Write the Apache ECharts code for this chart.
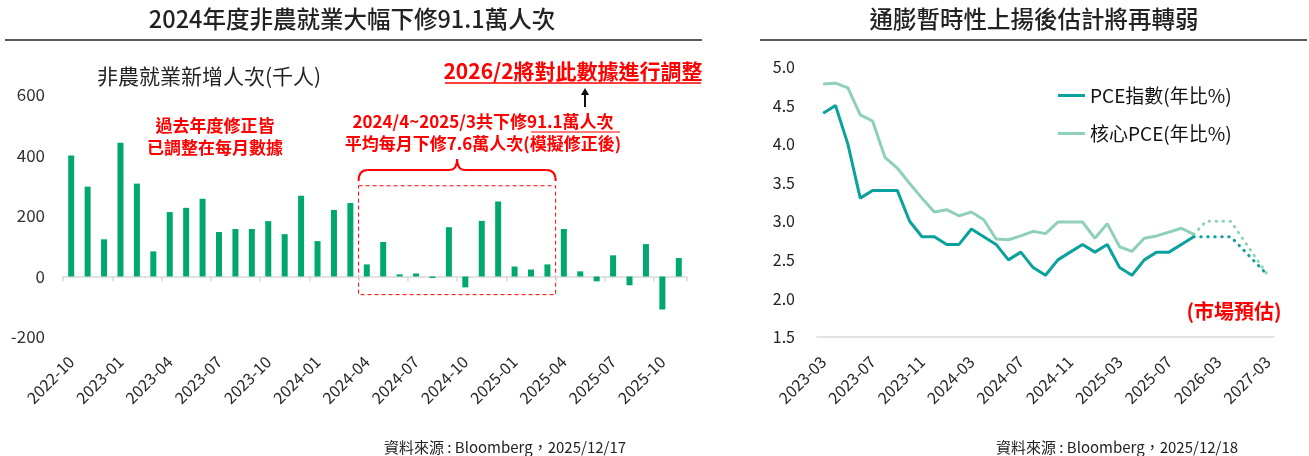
<!doctype html>
<html>
<head>
    <meta charset="UTF-8">
    <title>非農就業與PCE</title>
    <script src="https://cdn.jsdelivr.net/npm/echarts@6/dist/echarts.min.js"></script>
    <style>
        html, body { margin: 0; padding: 0; background: #fff; }
        #main { width: 1309px; height: 456px; }
    </style>
</head>
<body>
<div id="main"></div>
<script type="text/javascript">
    // 非農就業新增人次(千人)
    var nfpMonths = ['2022-10', '2022-11', '2022-12', '2023-01', '2023-02', '2023-03', '2023-04', '2023-05',
        '2023-06', '2023-07', '2023-08', '2023-09', '2023-10', '2023-11', '2023-12', '2024-01', '2024-02',
        '2024-03', '2024-04', '2024-05', '2024-06', '2024-07', '2024-08', '2024-09', '2024-10', '2024-11',
        '2024-12', '2025-01', '2025-02', '2025-03', '2025-04', '2025-05', '2025-06', '2025-07', '2025-08',
        '2025-09', '2025-10', '2025-11'];
    var nfpValues = [400, 297, 123, 442, 307, 83, 213, 227, 257, 147, 157, 157, 183, 140, 267, 117, 220,
        243, 40, 114, 7, 10, -5, 163, -36, 184, 248, 33, 23, 40, 157, 17, -16, 70, -29, 107, -109, 61];
    var nfpTicks = [-200, 0, 200, 400, 600];

    // PCE (年比%)
    var pceMonths = ['2023-03', '2023-04', '2023-05', '2023-06', '2023-07', '2023-08', '2023-09', '2023-10',
        '2023-11', '2023-12', '2024-01', '2024-02', '2024-03', '2024-04', '2024-05', '2024-06', '2024-07',
        '2024-08', '2024-09', '2024-10', '2024-11', '2024-12', '2025-01', '2025-02', '2025-03', '2025-04',
        '2025-05', '2025-06', '2025-07', '2025-08', '2025-09',
        '2025-12', '2026-03', '2026-06', '2026-09', '2026-12', '2027-03'];
    var pceActual = [4.4, 4.5, 4.0, 3.3, 3.4, 3.4, 3.4, 3.0, 2.8, 2.8, 2.7, 2.7, 2.9, 2.8, 2.7, 2.5, 2.6,
        2.4, 2.3, 2.5, 2.6, 2.7, 2.6, 2.7, 2.4, 2.3, 2.5, 2.6, 2.6, 2.7, 2.8];
    var coreActual = [4.78, 4.79, 4.73, 4.38, 4.30, 3.83, 3.69, 3.49, 3.30, 3.12, 3.15, 3.07, 3.12, 3.02,
        2.77, 2.76, 2.81, 2.87, 2.84, 2.99, 2.99, 2.99, 2.78, 2.97, 2.67, 2.61, 2.78, 2.81, 2.86, 2.91, 2.83];
    // 市場預估 2025-12 ~ 2027-03
    var pceForecast = [2.8, 2.8, 2.8, null, null, 2.3];
    var coreForecast = [3.0, 3.0, 3.0, null, null, 2.3];

    var pceColor = '#0ba19c';
    var coreColor = '#8fd0bb';
    var red = '#ff0000';
    var font = '"Noto Sans CJK TC", "Noto Sans", sans-serif';

    function padActual(actual, fc) {
        return actual.concat(fc.map(function () { return null; }));
    }
    function padForecast(actual, fc) {
        var arr = actual.map(function () { return null; });
        arr[arr.length - 1] = actual[actual.length - 1];
        return arr.concat(fc);
    }

    var myChart = echarts.init(document.getElementById('main'));

    var option = {
        animation: false,
        textStyle: { fontFamily: font },
        grid: [
            { left: 63, right: 622, top: 95, bottom: 119 },
            { left: 817, right: 35, top: 67, bottom: 119 }
        ],
        legend: {
            data: ['PCE指數(年比%)', '核心PCE(年比%)'],
            orient: 'vertical',
            left: 1058,
            top: 86,
            icon: 'rect',
            itemWidth: 27,
            itemHeight: 3,
            itemGap: 19,
            padding: 0,
            selectedMode: false,
            textStyle: { fontSize: 19, color: '#111', fontFamily: font }
        },
        xAxis: [
            {
                // 零軸(線與刻度)
                type: 'category', gridIndex: 0, position: 'bottom', data: nfpMonths,
                axisLine: { onZero: true, lineStyle: { color: '#d9d9d9', width: 1.5 } },
                axisTick: { show: true, interval: 2, length: 5, lineStyle: { color: '#d9d9d9', width: 1.5 } },
                axisLabel: { show: false }
            },
            {
                // 底部標籤
                type: 'category', gridIndex: 0, position: 'bottom', data: nfpMonths,
                axisLine: { show: false, onZero: false },
                axisTick: { show: false },
                axisLabel: { interval: 2, rotate: 45, margin: 22, fontSize: 16, color: '#262626' }
            },
            {
                type: 'category', gridIndex: 1, position: 'bottom', data: pceMonths,
                axisLine: { onZero: false, lineStyle: { color: '#d9d9d9', width: 1.5 } },
                axisTick: { show: false },
                axisLabel: { interval: 3, rotate: 45, margin: 22, fontSize: 16, color: '#262626' }
            }
        ],
        yAxis: [
            {
                type: 'value', gridIndex: 0,
                min: nfpTicks[0], max: nfpTicks[nfpTicks.length - 1], interval: 200,
                axisLine: { show: false }, axisTick: { show: false }, splitLine: { show: false },
                axisLabel: { fontSize: 17, color: '#333', margin: 18 }
            },
            {
                type: 'value', gridIndex: 1, min: 1.5, max: 5, interval: 0.5,
                axisLine: { show: false }, axisTick: { show: false }, splitLine: { show: false },
                axisLabel: {
                    fontSize: 16, color: '#222', margin: 22,
                    formatter: function (v) { return v.toFixed(1); }
                }
            }
        ],
        series: [
            {
                name: '非農就業新增人次',
                type: 'bar',
                xAxisIndex: 0, yAxisIndex: 0,
                barWidth: 6,
                itemStyle: { color: '#00a76e' },
                data: nfpValues
            },
            {
                name: '核心PCE(年比%)',
                type: 'line', xAxisIndex: 2, yAxisIndex: 1,
                symbol: 'none', color: coreColor,
                lineStyle: { width: 3, color: coreColor },
                data: padActual(coreActual, coreForecast)
            },
            {
                name: 'PCE指數(年比%)',
                type: 'line', xAxisIndex: 2, yAxisIndex: 1,
                symbol: 'none', color: pceColor,
                lineStyle: { width: 3, color: pceColor },
                data: padActual(pceActual, pceForecast)
            },
            {
                name: '核心PCE預估',
                type: 'line', xAxisIndex: 2, yAxisIndex: 1,
                symbol: 'none', connectNulls: true,
                lineStyle: { width: 3, color: coreColor, type: [0.5, 6.5], cap: 'round' },
                data: padForecast(coreActual, coreForecast)
            },
            {
                name: 'PCE指數預估',
                type: 'line', xAxisIndex: 2, yAxisIndex: 1,
                symbol: 'none', connectNulls: true,
                lineStyle: { width: 3, color: pceColor, type: [0.5, 6.5], cap: 'round' },
                data: padForecast(pceActual, pceForecast)
            }
        ]
    };
    myChart.setOption(option);

    // 註解位置由座標軸換算
    var finder = { xAxisIndex: 0, yAxisIndex: 0 };
    var pA = myChart.convertToPixel(finder, ['2024-04', 300]);
    var pB = myChart.convertToPixel(finder, ['2025-03', -60]);
    var band = myChart.convertToPixel(finder, ['2024-05', 0])[0] - pA[0];
    var bx0 = pA[0] - band / 2, bx1 = pB[0] + band / 2;
    var bxm = (bx0 + bx1) / 2;

    function txt(x, y, s, size, color, weight, align) {
        return {
            type: 'text', x: x, y: y, silent: true,
            style: {
                text: s, fill: color, fontSize: size, fontFamily: font,
                fontWeight: weight || 'normal',
                align: align || 'center', verticalAlign: 'middle'
            }
        };
    }
    function seg(x1, y1, x2, y2, color, w) {
        return { type: 'line', silent: true, shape: { x1: x1, y1: y1, x2: x2, y2: y2 },
            style: { stroke: color, lineWidth: w } };
    }
    function curve(x1, y1, cx, cy, x2, y2) {
        return { type: 'bezierCurve', silent: true,
            shape: { x1: x1, y1: y1, cpx1: cx, cpy1: cy, x2: x2, y2: y2 },
            style: { stroke: red, lineWidth: 2, fill: null } };
    }

    myChart.setOption({
        graphic: [
            txt(352, 19, '2024年度非農就業大幅下修91.1萬人次', 23.5, '#222', 500),
            seg(5, 40, 702, 40, '#222', 1.5),
            txt(1034, 19, '通膨暫時性上揚後估計將再轉弱', 23.5, '#222', 500),
            seg(760, 40, 1307, 40, '#222', 1.5),

            txt(97, 76, '非農就業新增人次(千人)', 21, '#222', 'normal', 'left'),
            txt(215, 126, '過去年度修正皆', 17, red, 'bold'),
            txt(215, 148, '已調整在每月數據', 17, red, 'bold'),
            txt(483, 122, '2024/4~2025/3共下修91.1萬人次', 17, red, 'bold'),
            seg(531, 132, 620, 132, red, 1.2),
            txt(483, 144, '平均每月下修7.6萬人次(模擬修正後)', 17, red, 'bold'),
            txt(573, 71, '2026/2將對此數據進行調整', 21, red, 'bold'),
            seg(445, 83, 701, 83, red, 1.5),
            seg(585, 107, 585, 93, '#111', 2),
            { type: 'polygon', silent: true, shape: { points: [[585, 88], [581, 95], [589, 95]] },
                style: { fill: '#111' } },

            // 大括號
            curve(bx0, 181, bx0, 170, bx0 + 9, 170),
            seg(bx0 + 9, 170, bxm - 8, 170, red, 2),
            curve(bxm - 8, 170, bxm, 170, bxm, 159),
            curve(bxm, 159, bxm, 170, bxm + 8, 170),
            seg(bxm + 8, 170, bx1 - 9, 170, red, 2),
            curve(bx1 - 9, 170, bx1, 170, bx1, 181),
            { type: 'rect', silent: true,
                shape: { x: bx0, y: pA[1], width: bx1 - bx0, height: pB[1] - pA[1] },
                style: { stroke: red, lineWidth: 1, lineDash: [4, 3], fill: null } },

            txt(1234, 311, '(市場預估)', 20, red, 'bold'),
            txt(505, 447, '資料來源 : Bloomberg，2025/12/17', 15, '#222'),
            txt(1117, 447, '資料來源 : Bloomberg，2025/12/18', 15, '#222')
        ]
    });
</script>
</body>
</html>
